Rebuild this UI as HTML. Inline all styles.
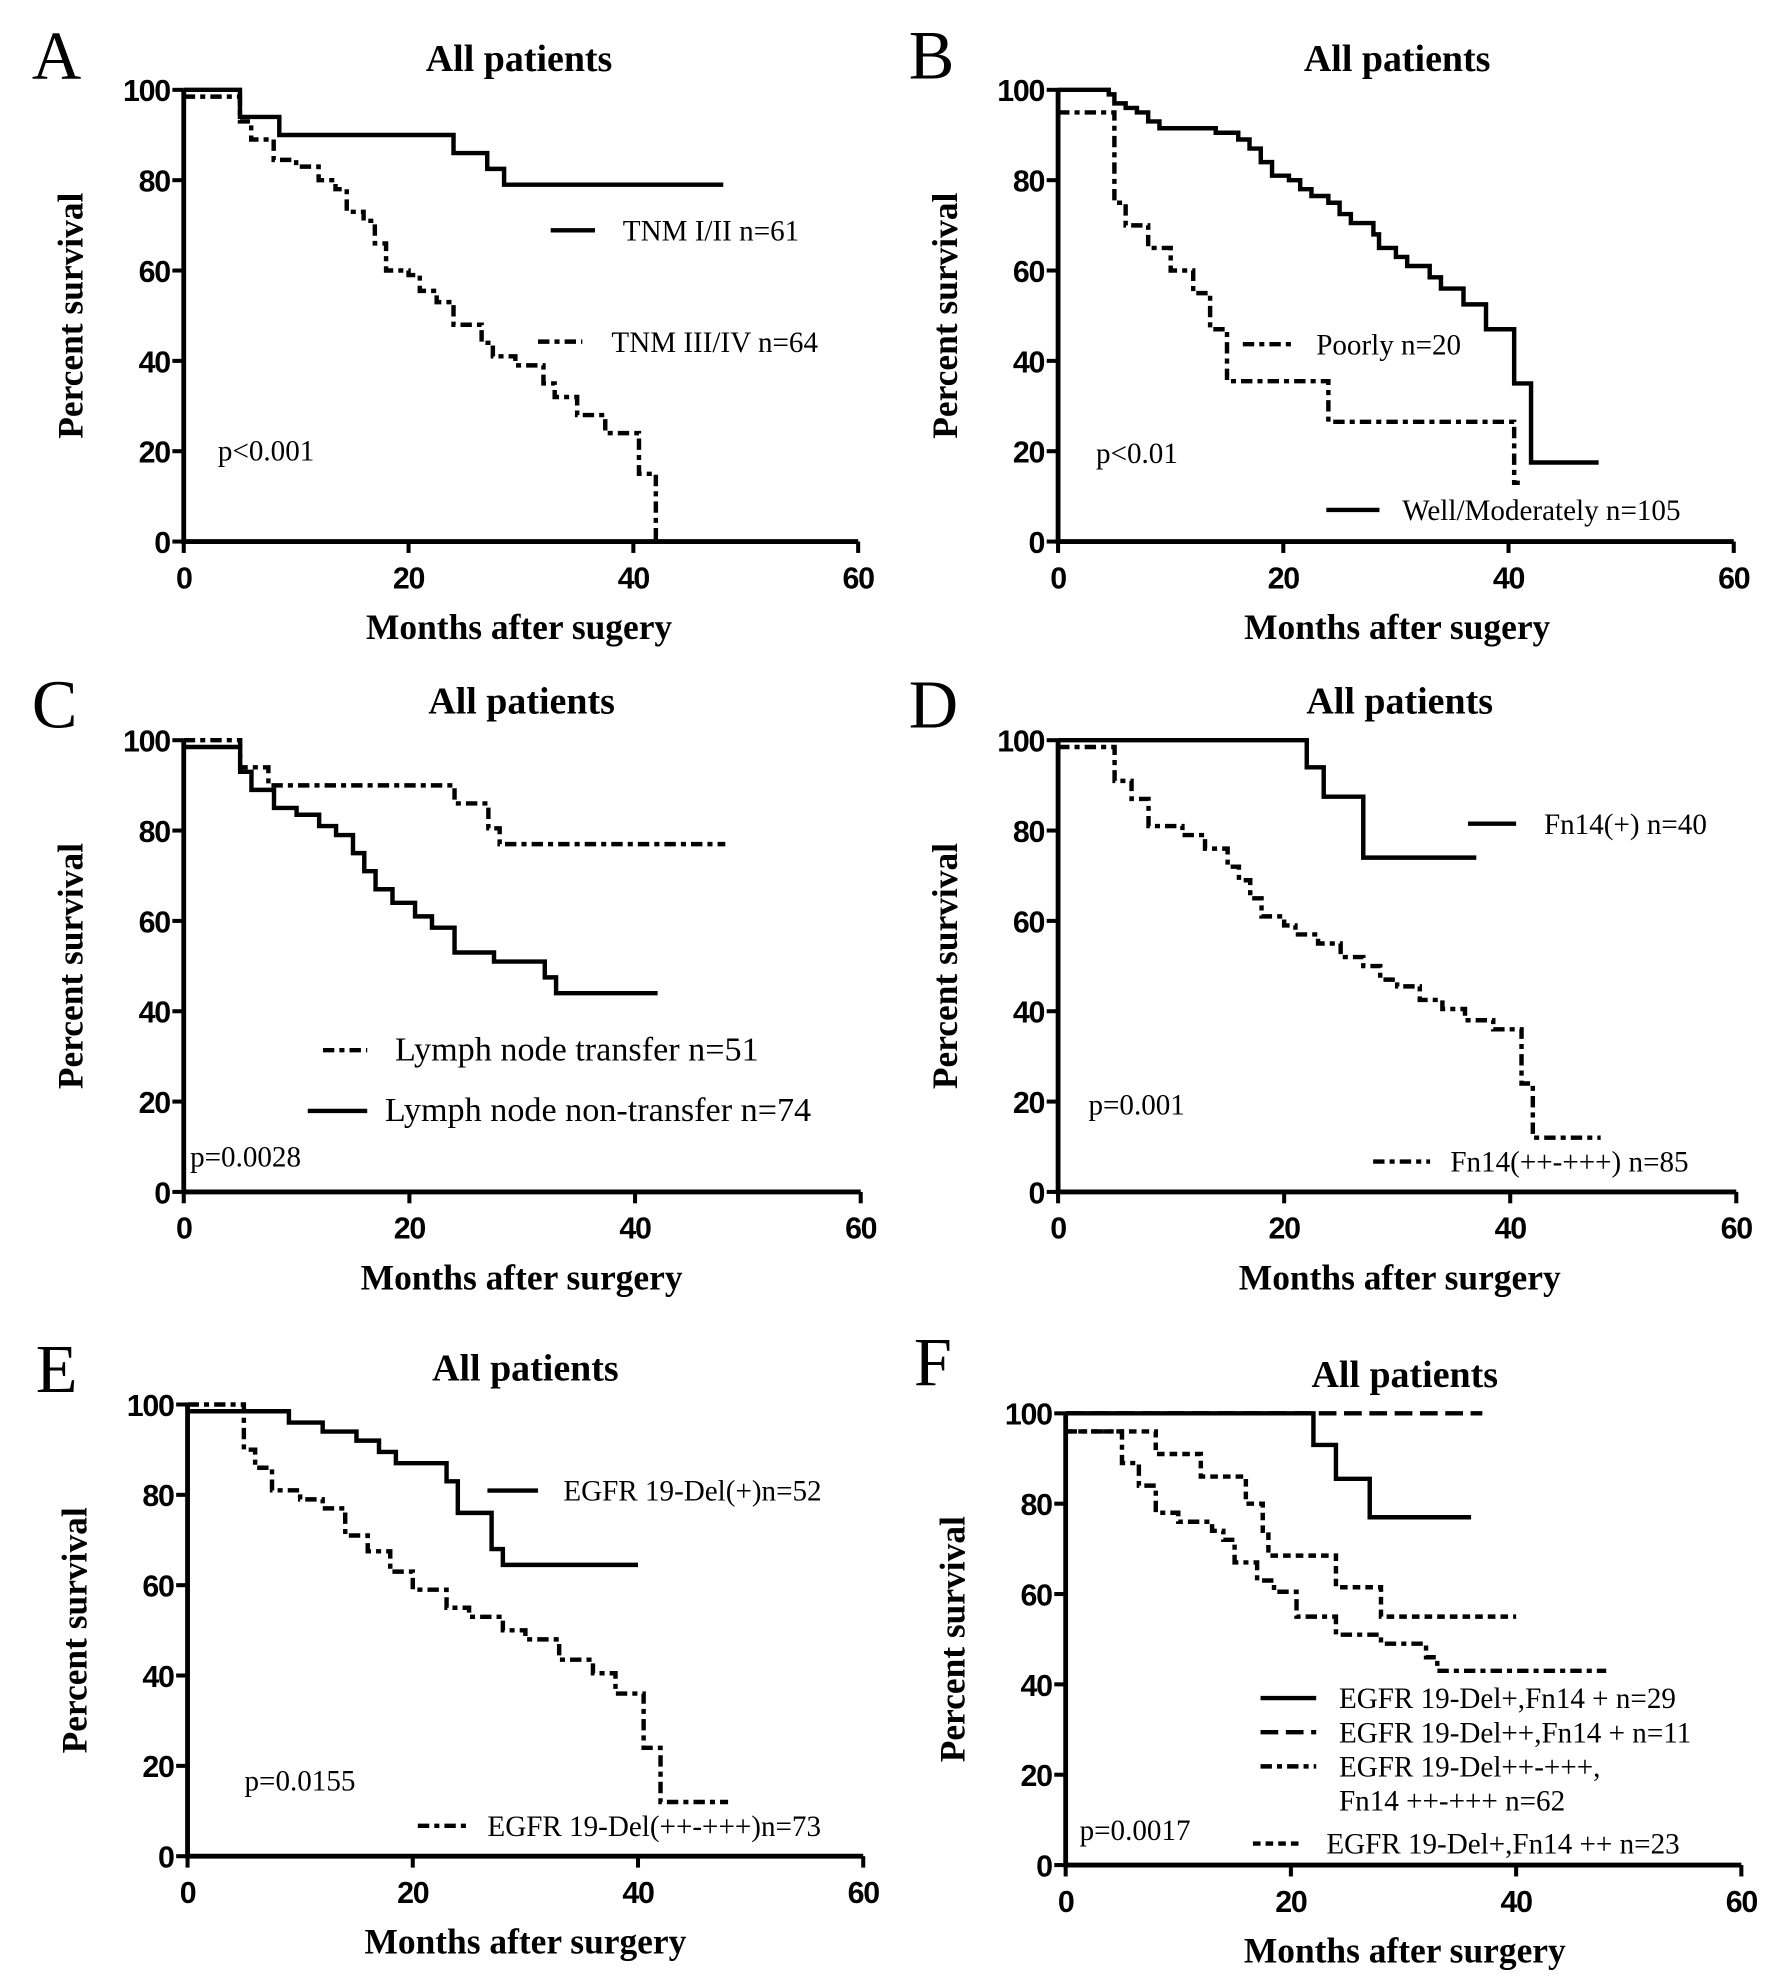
<!DOCTYPE html>
<html><head><meta charset="utf-8">
<style>
html,body{margin:0;padding:0;background:#fff;}
svg{display:block;}
.tick{font-family:"Liberation Sans",sans-serif;font-weight:bold;font-size:24px;letter-spacing:-1px;}
.title{font-family:"Liberation Serif",serif;font-weight:bold;font-size:30px;}
.axl{font-family:"Liberation Serif",serif;font-weight:bold;font-size:28px;}
.leg{font-family:"Liberation Serif",serif;font-size:23px;}
.letter{font-family:"Liberation Serif",serif;font-size:54px;}
</style></head>
<body>
<svg id="fig" width="1772" height="1984" viewBox="0 0 1400 1568" xmlns="http://www.w3.org/2000/svg"></svg>
<script>
// Panel A data
const aSolidT=[0,5,8.5,24,27,28.5,48];
const aSolidV=[100,94,90,86,82.5,79,79];
const aDashT=[0,5,6,8,10,12,13.5,14.5,16,17,18,20,21,22.5,24,26.5,27.5,29.5,32,33,35,37.5,40.5,42];
const aDashV=[98.5,93,89,84.5,83,80,78,73,71,66,60,59,55.5,53,48,44,41,39,35,32,28,24,15,0];
// Panel B data
const bSolidT=[0,4.5,5,6,7,8,9,14,16,17,18,19,20.5,21.5,22.5,24,25,26,28,28.5,30,31,33,34,36,38,40.5,42,48];
const bSolidV=[100,99,97,96,95,93,91.5,90.5,89,87,84,81,80,78,76.5,75,72.5,70.5,68,65,63,61,58.5,56,52.5,47,35,17.5,17.5];
const bDashT=[0,5,6,8,10,12,13.5,15,24,40.5,41];
const bDashV=[95,75,70,65,60,55,47,35.5,26.5,13,13];
// Panel C data
const cDashT=[0,5,7.5,24,27,28,48];
const cDashV=[100,94,90,86,80.5,77,77];
const cSolidT=[0,5,6,8,10,12,13.5,15,16,17,18.5,20.5,22,24,27.5,32,33,42];
const cSolidV=[98.5,93,89,85,83.5,81,79,75,71,67,64,61,58.5,53,51,47.5,44,44];
// Panel D data
const dSolidT=[0,22,23.5,27,37];
const dSolidV=[100,94,87.5,74,74];
const dDashT=[0,5,6.5,8,11,13,15,16,17,18,20,21,23,25,27,28.5,30,32,34,36,38.5,41,42,48];
const dDashV=[98.5,91,87,81,79,76,72,69,65,61,59,57,55,52,50,47,45.5,42.5,40.5,38,36,24,12,12];
// Panel E data
const eSolidT=[0,9,12,15,17,18.5,23,24,27,28,40];
const eSolidV=[98.5,96,94,92,89.5,87,83,76,68,64.5,64.5];
const eDashT=[0,5,6,7.5,10,12,14,16,18,20,23,25,28,30,33,36,38,40.5,42,48];
const eDashV=[100,90,86,81,79,77,71,67.5,63,59,55,53,50,48,43.5,40.5,36,24,12,12];
// Panel F data
const fSolidT=[0,22,24,27,36];
const fSolidV=[100,93,85.5,77,77];
const fLongT=[0,37];
const fLongV=[100,100];
const fDDT=[0,5,6.5,8,10,13,14,15,17,18.5,20.5,24,28,32,33,48];
const fDDV=[96,89,84,78,76,74,72,67,63,60.5,55,51,49,46,43,43];
const fDotT=[0,8,12,16,17.5,18,24,28,40];
const fDotV=[96,91,86,80,74,68.5,61.5,55,55];
const xTicks=[0,20,40,60];
const yTicks=[0,20,40,60,80,100];

const NS="http://www.w3.org/2000/svg";
const svg=document.getElementById('fig');
function mk(tag,attrs,parent){const e=document.createElementNS(NS,tag);for(const k in attrs)e.setAttribute(k,attrs[k]);(parent||svg).appendChild(e);return e;}
function txt(s,x,y,cls,anchor,parent){const t=mk('text',{x:x,y:y,class:cls,'text-anchor':anchor||'start'},parent);t.textContent=s;return t;}
const DASH={solid:'',dashdot:'9 4 4 4',dash:'14 6',dot:'6 4'};

function panel(p){
  const g=mk('g',{});
  
  
  const X=v=>p.x0+(p.x60-p.x0)*v/60, Y=v=>p.y0-(p.y0-p.y100)*v/100;
  const L=txt(p.letter,p.lx,p.ly,'letter','start',g);
  
  const T=txt('All patients',p.tx,p.ty,'title','middle',g);
  
  const ax=mk('path',{d:`M${X(0)},${Y(100)}V${Y(0)}H${X(60)}`,stroke:'#000','stroke-width':3.8,fill:'none'},g);
  
  xTicks.forEach(v=>{
    mk('line',{x1:X(v),x2:X(v),y1:Y(0),y2:Y(0)+9,stroke:'#000','stroke-width':3.2},g);
    const t=txt(String(v),X(v),Y(0)+37,'tick','middle',g);
    
  });
  yTicks.forEach(v=>{
    mk('line',{x1:X(0)-9,x2:X(0),y1:Y(v),y2:Y(v),stroke:'#000','stroke-width':3.2},g);
    const t=txt(String(v),X(0)-11,Y(v)+9,'tick','end',g);
    
  });
  const xl=txt(p.xlab,p.tx,p.y0+77,'axl','middle',g);
  
  const yc=(p.y0+p.y100)/2;
  const yl=txt('Percent survival',0,0,'axl','middle',g);
  yl.setAttribute('transform',`translate(${p.x0-80},${yc}) rotate(-90)`);
  
  p.series.forEach(s=>{
    let d=`M${X(s.t[0])},${Y(s.v[0])}`;
    for(let i=1;i<s.t.length;i++){d+=`H${X(s.t[i])}V${Y(s.v[i])}`;}
    const path=mk('path',{d:d,stroke:'#000','stroke-width':3.5,fill:'none','stroke-dasharray':DASH[s.style]},g);
    
  });
  p.legend.forEach(l=>{
    const e=mk('g',{},g);
    
    if(l.x1!=null)mk('line',{x1:l.x1,x2:l.x2,y1:l.y,y2:l.y,stroke:'#000','stroke-width':3.5,'stroke-dasharray':DASH[l.style]},e);
    txt(l.text,l.tx,l.y+8,'leg','start',e).setAttribute('style','font-size:'+(l.fs||23)+'px');
  });
  const pv=txt(p.p[0],p.p[1],p.p[2],'leg','start',g);
  
}

panel({id:'a',letter:'A',lx:25,ly:62,tx:410,ty:56,x0:145,x60:678,y100:71,y0:428,xlab:'Months after sugery',
 series:[{name:'tnm-i-ii',t:aSolidT,v:aSolidV,style:'solid'},{name:'tnm-iii-iv',t:aDashT,v:aDashV,style:'dashdot'}],
 legend:[{x1:435,x2:470,y:182,style:'solid',text:'TNM I/II n=61',tx:492},{x1:425,x2:460,y:270,style:'dashdot',text:'TNM III/IV n=64',tx:483}],
 p:['p<0.001',172,364]});
panel({id:'b',letter:'B',lx:718,ly:62,tx:1104,ty:56,x0:836,x60:1370,y100:71,y0:428,xlab:'Months after sugery',
 series:[{name:'well-moderately',t:bSolidT,v:bSolidV,style:'solid'},{name:'poorly',t:bDashT,v:bDashV,style:'dashdot'}],
 legend:[{x1:982,x2:1022,y:272,style:'dashdot',text:'Poorly n=20',tx:1040},{x1:1048,x2:1090,y:403,style:'solid',text:'Well/Moderately n=105',tx:1108}],
 p:['p<0.01',866,366]});
panel({id:'c',letter:'C',lx:25,ly:575,tx:412,ty:564,x0:145,x60:680,y100:585,y0:942,xlab:'Months after surgery',
 series:[{name:'lymph-transfer',t:cDashT,v:cDashV,style:'dashdot'},{name:'lymph-non-transfer',t:cSolidT,v:cSolidV,style:'solid'}],
 legend:[{x1:255,x2:290,y:830,style:'dashdot',text:'Lymph node transfer n=51',tx:312,fs:27},{x1:243,x2:290,y:878,style:'solid',text:'Lymph node non-transfer n=74',tx:304,fs:27}],
 p:['p=0.0028',150,922]});
panel({id:'d',letter:'D',lx:718,ly:575,tx:1106,ty:564,x0:836,x60:1372,y100:585,y0:942,xlab:'Months after surgery',
 series:[{name:'fn14-pos',t:dSolidT,v:dSolidV,style:'solid'},{name:'fn14-high',t:dDashT,v:dDashV,style:'dashdot'}],
 legend:[{x1:1160,x2:1198,y:651,style:'solid',text:'Fn14(+) n=40',tx:1220},{x1:1085,x2:1130,y:918,style:'dashdot',text:'Fn14(++-+++) n=85',tx:1146}],
 p:['p=0.001',860,881]});
panel({id:'e',letter:'E',lx:28,ly:1100,tx:415,ty:1091,x0:148,x60:682,y100:1110,y0:1467,xlab:'Months after surgery',
 series:[{name:'egfr-pos',t:eSolidT,v:eSolidV,style:'solid'},{name:'egfr-high',t:eDashT,v:eDashV,style:'dashdot'}],
 legend:[{x1:385,x2:425,y:1178,style:'solid',text:'EGFR 19-Del(+)n=52',tx:445},{x1:330,x2:370,y:1443,style:'dashdot',text:'EGFR 19-Del(++-+++)n=73',tx:385}],
 p:['p=0.0155',193,1415]});
panel({id:'f',letter:'F',lx:722,ly:1095,tx:1110,ty:1096,x0:842,x60:1376,y100:1117,y0:1474,xlab:'Months after surgery',
 series:[{name:'egfr-pos-fn14-pos',t:fSolidT,v:fSolidV,style:'solid'},{name:'egfr-high-fn14-pos',t:fLongT,v:fLongV,style:'dash'},
  {name:'egfr-high-fn14-high',t:fDDT,v:fDDV,style:'dashdot'},{name:'egfr-pos-fn14-high',t:fDotT,v:fDotV,style:'dot'}],
 legend:[{x1:996,x2:1040,y:1342,style:'solid',text:'EGFR 19-Del+,Fn14 + n=29',tx:1058},{x1:996,x2:1040,y:1369,style:'dash',text:'EGFR 19-Del++,Fn14 + n=11',tx:1058},
  {x1:996,x2:1040,y:1396,style:'dashdot',text:'EGFR 19-Del++-+++,',tx:1058},{y:1423,text:'Fn14 ++-+++ n=62',tx:1058},
  {x1:990,x2:1030,y:1457,style:'dot',text:'EGFR 19-Del+,Fn14 ++ n=23',tx:1048}],
 p:['p=0.0017',853,1454]});
</script>
</body></html>
